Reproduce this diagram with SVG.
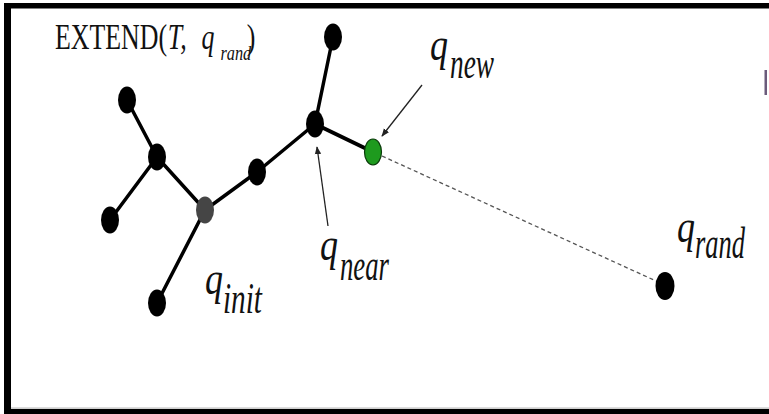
<svg xmlns="http://www.w3.org/2000/svg" width="769" height="414" viewBox="0 0 769 414">
<defs>
<marker id="ah" viewBox="0 0 10 10" refX="9" refY="5" markerWidth="8" markerHeight="8" markerUnits="userSpaceOnUse" orient="auto">
<path d="M0,1 L10,5 L0,9 z" fill="#222"/>
</marker>
<style>
.edge{stroke:#000;stroke-width:3.5;fill:none;stroke-linecap:round}
.node{fill:#000}
.lbl{font-family:"Liberation Serif","Times New Roman",serif;font-style:italic;fill:#111}
.up{font-family:"Liberation Serif","Times New Roman",serif;fill:#111}
.ptr{stroke:#222;stroke-width:1.3;fill:none}
</style>
</defs>
<rect x="0" y="0" width="769" height="414" fill="#fff"/>
<!-- frame -->
<rect x="4" y="3" width="765" height="5.5" fill="#000"/>
<rect x="4" y="3" width="7" height="411" fill="#000"/>
<rect x="4" y="409" width="765" height="5" fill="#000"/>
<rect x="11" y="407.5" width="758" height="1.2" fill="#bbb"/>
<rect x="764.5" y="70" width="2.5" height="25" fill="#6b5b7b"/>

<g id="connectors">
<line class="edge" x1="127" y1="100" x2="157" y2="157"/>
<line class="edge" x1="157" y1="157" x2="110" y2="220"/>
<line class="edge" x1="157" y1="157" x2="205" y2="210"/>
<line class="edge" x1="205" y1="210" x2="157" y2="303"/>
<line class="edge" x1="205" y1="210" x2="257" y2="172"/>
<line class="edge" x1="257" y1="172" x2="315" y2="124"/>
<line class="edge" x1="315" y1="124" x2="333" y2="37"/>
<line class="edge" x1="315" y1="124" x2="373" y2="152" style="stroke-width:4"/>
<line x1="382" y1="156" x2="656" y2="281" stroke="#555" stroke-width="1.3" stroke-dasharray="4 3"/>
<line class="ptr" x1="422" y1="85" x2="382" y2="136" marker-end="url(#ah)"/>
<line class="ptr" x1="328" y1="226" x2="317" y2="147" marker-end="url(#ah)"/>
</g>

<g id="n1"><ellipse class="node" cx="127" cy="100" rx="9" ry="13.5"/></g>
<g id="n2"><ellipse class="node" cx="157" cy="157" rx="9" ry="13.5"/></g>
<g id="n3"><ellipse class="node" cx="110" cy="220" rx="9" ry="13.5"/></g>
<g id="qinit"><ellipse cx="205" cy="210" rx="9" ry="13.5" fill="#454545"/></g>
<g id="n4"><ellipse class="node" cx="157" cy="303" rx="9" ry="13.5"/></g>
<g id="n5"><ellipse class="node" cx="257" cy="172" rx="9" ry="13.5"/></g>
<g id="qnear"><ellipse class="node" cx="315" cy="124" rx="9" ry="13.5"/></g>
<g id="n6"><ellipse class="node" cx="333" cy="37" rx="9" ry="13.5"/></g>
<g id="qnew"><ellipse cx="373" cy="152" rx="8.5" ry="13" fill="#1e9a1e" stroke="#0a3a0a" stroke-width="1.2"/></g>
<g id="qrand"><ellipse class="node" cx="665" cy="286" rx="9.5" ry="14"/></g>

<g id="title">
<text class="up" font-size="35" transform="translate(55,49) scale(0.74,1)" x="0" y="0">EXTEND(<tspan class="lbl" dx="1">T,</tspan><tspan class="lbl" dx="20">q</tspan><tspan class="lbl" font-size="22" dx="8" dy="11">rand</tspan><tspan dx="-6" dy="-11">)</tspan></text>
</g>

<g id="labels">
<text class="lbl" font-size="46" x="430" y="60"><tspan textLength="18" lengthAdjust="spacingAndGlyphs">q</tspan><tspan font-size="44" x="450" y="78" textLength="44" lengthAdjust="spacingAndGlyphs">new</tspan></text>
<text class="lbl" font-size="46" x="320" y="260"><tspan textLength="18" lengthAdjust="spacingAndGlyphs">q</tspan><tspan font-size="44" x="340" y="280" textLength="49" lengthAdjust="spacingAndGlyphs">near</tspan></text>
<text class="lbl" font-size="46" x="205" y="294"><tspan textLength="18" lengthAdjust="spacingAndGlyphs">q</tspan><tspan font-size="44" x="223" y="313" textLength="39" lengthAdjust="spacingAndGlyphs">init</tspan></text>
<text class="lbl" font-size="46" x="677" y="242"><tspan textLength="18" lengthAdjust="spacingAndGlyphs">q</tspan><tspan font-size="44" x="695" y="258" textLength="50" lengthAdjust="spacingAndGlyphs">rand</tspan></text>
</g>
</svg>
